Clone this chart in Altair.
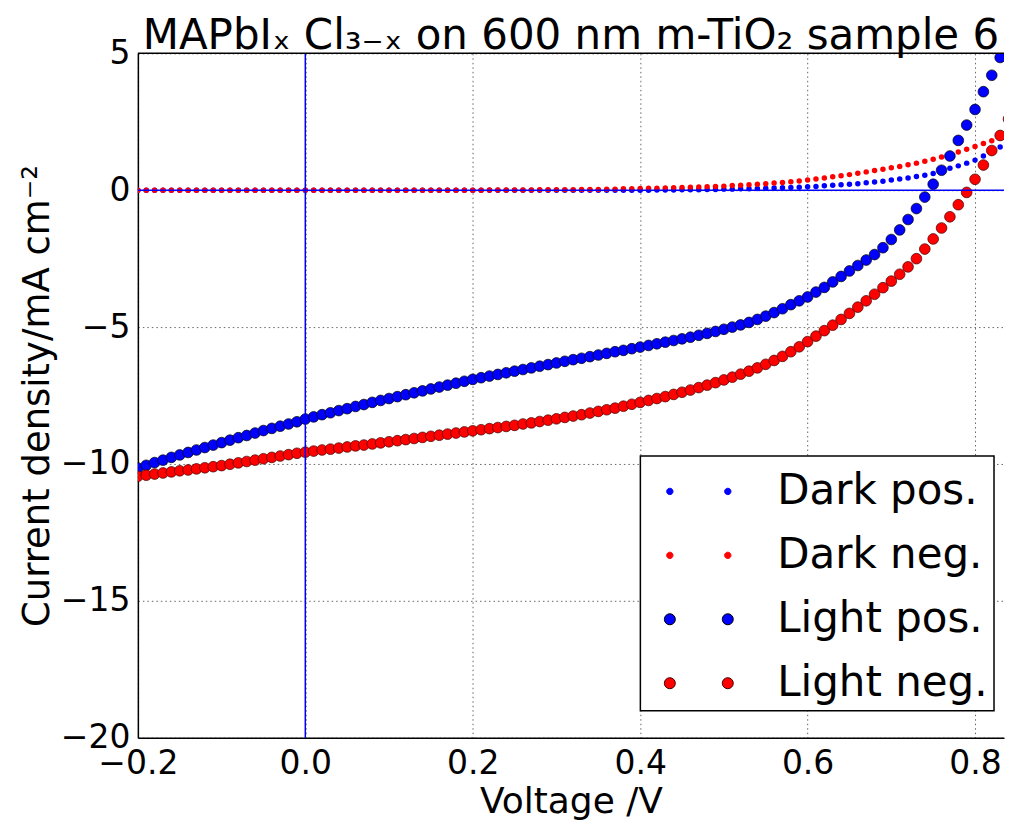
import altair as alt
import pandas as pd

# ---------------- data ----------------
voltage = [
    -0.20, -0.19, -0.18, -0.17, -0.16, -0.15, -0.14, -0.13, -0.12, -0.11,
    -0.10, -0.09, -0.08, -0.07, -0.06, -0.05, -0.04, -0.03, -0.02, -0.01,
    0.00, 0.01, 0.02, 0.03, 0.04, 0.05, 0.06, 0.07, 0.08, 0.09,
    0.10, 0.11, 0.12, 0.13, 0.14, 0.15, 0.16, 0.17, 0.18, 0.19,
    0.20, 0.21, 0.22, 0.23, 0.24, 0.25, 0.26, 0.27, 0.28, 0.29,
    0.30, 0.31, 0.32, 0.33, 0.34, 0.35, 0.36, 0.37, 0.38, 0.39,
    0.40, 0.41, 0.42, 0.43, 0.44, 0.45, 0.46, 0.47, 0.48, 0.49,
    0.50, 0.51, 0.52, 0.53, 0.54, 0.55, 0.56, 0.57, 0.58, 0.59,
    0.60, 0.61, 0.62, 0.63, 0.64, 0.65, 0.66, 0.67, 0.68, 0.69,
    0.70, 0.71, 0.72, 0.73, 0.74, 0.75, 0.76, 0.77, 0.78, 0.79,
    0.80, 0.81, 0.82, 0.83, 0.84,
]

dark_pos = [
    0.00, 0.00, 0.00, 0.00, 0.00, 0.00, 0.00, 0.00, 0.00, 0.00,
    0.00, 0.00, 0.00, 0.00, 0.00, 0.00, 0.00, 0.00, 0.00, 0.00,
    0.00, 0.00, 0.00, 0.00, 0.00, 0.00, 0.00, 0.00, 0.00, 0.00,
    0.00, 0.00, 0.00, 0.00, 0.00, 0.00, 0.00, 0.00, 0.00, 0.00,
    0.00, 0.00, 0.00, 0.00, 0.00, 0.00, 0.00, 0.00, 0.00, 0.00,
    0.00, 0.00, 0.00, 0.00, 0.00, 0.00, 0.00, 0.00, 0.00, 0.00,
    0.00, 0.00, 0.01, 0.01, 0.01, 0.02, 0.02, 0.02, 0.03, 0.03,
    0.04, 0.04, 0.05, 0.05, 0.06, 0.07, 0.08, 0.09, 0.10, 0.11,
    0.13, 0.14, 0.16, 0.18, 0.20, 0.22, 0.24, 0.27, 0.30, 0.33,
    0.37, 0.41, 0.45, 0.50, 0.55, 0.61, 0.70, 0.80, 0.89, 0.99,
    1.10, 1.25, 1.41, 1.58, 1.76,
]

dark_neg = [
    0.00, 0.00, 0.00, 0.00, 0.00, 0.00, 0.00, 0.00, 0.00, 0.00,
    0.00, 0.00, 0.00, 0.00, 0.00, 0.00, 0.00, 0.00, 0.00, 0.00,
    0.00, 0.00, 0.00, 0.00, 0.00, 0.00, 0.00, 0.00, 0.00, 0.00,
    0.00, 0.00, 0.00, 0.00, 0.00, 0.00, 0.00, 0.00, 0.00, 0.00,
    0.00, 0.00, 0.01, 0.01, 0.01, 0.01, 0.01, 0.01, 0.02, 0.02,
    0.02, 0.02, 0.02, 0.03, 0.03, 0.03, 0.04, 0.04, 0.05, 0.05,
    0.06, 0.07, 0.07, 0.08, 0.09, 0.10, 0.11, 0.12, 0.13, 0.14,
    0.15, 0.17, 0.18, 0.20, 0.22, 0.24, 0.26, 0.28, 0.31, 0.34,
    0.37, 0.41, 0.45, 0.49, 0.53, 0.57, 0.62, 0.67, 0.72, 0.77,
    0.82, 0.87, 0.93, 0.99, 1.06, 1.13, 1.21, 1.33, 1.40, 1.50,
    1.60, 1.71, 1.81, 1.91, 2.03,
]

light_pos = [
    -10.15, -10.05, -9.95, -9.86, -9.76, -9.67, -9.58, -9.49, -9.40, -9.31,
    -9.22, -9.13, -9.04, -8.96, -8.87, -8.78, -8.70, -8.62, -8.54, -8.46,
    -8.36, -8.28, -8.20, -8.13, -8.05, -7.98, -7.90, -7.83, -7.75, -7.68,
    -7.61, -7.54, -7.47, -7.40, -7.33, -7.26, -7.19, -7.12, -7.05, -6.98,
    -6.91, -6.85, -6.79, -6.73, -6.67, -6.61, -6.55, -6.49, -6.43, -6.37,
    -6.31, -6.25, -6.19, -6.14, -6.08, -6.02, -5.96, -5.90, -5.85, -5.79,
    -5.73, -5.67, -5.61, -5.55, -5.49, -5.43, -5.37, -5.30, -5.23, -5.16,
    -5.08, -5.00, -4.92, -4.83, -4.72, -4.60, -4.47, -4.33, -4.18, -4.04,
    -3.90, -3.72, -3.55, -3.35, -3.15, -2.95, -2.75, -2.55, -2.35, -2.10,
    -1.80, -1.45, -1.07, -0.67, -0.25, 0.22, 0.73, 1.25, 1.82, 2.38,
    2.95, 3.60, 4.20, 4.85, 5.50,
]

light_neg = [
    -10.45, -10.41, -10.37, -10.33, -10.29, -10.25, -10.22, -10.18, -10.14, -10.10,
    -10.06, -10.01, -9.96, -9.91, -9.86, -9.81, -9.76, -9.71, -9.66, -9.61,
    -9.57, -9.53, -9.49, -9.46, -9.42, -9.38, -9.34, -9.31, -9.27, -9.23,
    -9.19, -9.15, -9.11, -9.07, -9.03, -8.99, -8.95, -8.91, -8.87, -8.83,
    -8.79, -8.75, -8.71, -8.67, -8.63, -8.59, -8.54, -8.50, -8.45, -8.40,
    -8.35, -8.30, -8.25, -8.20, -8.14, -8.08, -8.02, -7.96, -7.89, -7.82,
    -7.75, -7.68, -7.61, -7.54, -7.46, -7.38, -7.30, -7.21, -7.12, -7.03,
    -6.93, -6.83, -6.72, -6.61, -6.49, -6.36, -6.22, -6.07, -5.90, -5.72,
    -5.53, -5.33, -5.13, -4.93, -4.72, -4.50, -4.27, -4.04, -3.80, -3.56,
    -3.32, -3.07, -2.80, -2.50, -2.15, -1.78, -1.38, -0.97, -0.53, -0.08,
    0.40, 0.92, 1.45, 2.00, 2.60,
]

series_names = ["Dark pos.", "Dark neg.", "Light pos.", "Light neg."]
series_fill = ["#0000ff", "#ff0000", "#0000ff", "#ff0000"]
series_edge = ["#0000ff", "#ff0000", "#000000", "#400000"]

x_ticks = [-0.2, 0.0, 0.2, 0.4, 0.6, 0.8]
y_ticks = [-20, -15, -10, -5, 0, 5]

title_text = "MAPbIₓ Cl₃₋ₓ on 600 nm m-TiO₂ sample 6"
x_title = "Voltage /V"
y_title = "Current density/mA cm⁻²"

FONT = "DejaVu Sans"

# ---------------- encodings ----------------
x_enc = alt.X(
    "V:Q",
    scale=alt.Scale(domain=[-0.2, 0.8346], nice=False, zero=False),
    axis=alt.Axis(values=x_ticks, format=".1f", title=x_title),
)
y_enc = alt.Y(
    "J:Q",
    scale=alt.Scale(domain=[-20, 5], nice=False, zero=False),
    axis=alt.Axis(values=y_ticks, format="d", title=y_title),
)


def series_layer(values, fill, edge, size, sw):
    df = pd.DataFrame({"V": voltage, "J": values})
    return alt.Chart(df).mark_circle(
        fill=fill, stroke=edge, strokeWidth=sw, size=size,
        opacity=1, fillOpacity=1, strokeOpacity=1, clip=True,
    ).encode(x=x_enc, y=y_enc)


layers = [
    series_layer(dark_pos, series_fill[0], series_edge[0], 30, 0),
    series_layer(dark_neg, series_fill[1], series_edge[1], 30, 0),
    series_layer(light_pos, series_fill[2], series_edge[2], 115, 0.7),
    series_layer(light_neg, series_fill[3], series_edge[3], 115, 0.7),
]


# legend shapes: two markers per entry (like matplotlib numpoints=2)
def two_circles(r):
    return (
        f"M{-1 + r},0A{r},{r} 0 1,1 {-1 - r},0A{r},{r} 0 1,1 {-1 + r},0Z"
        f"M{1 + r},0A{r},{r} 0 1,1 {1 - r},0A{r},{r} 0 1,1 {1 + r},0Z"
    )


legend_shapes = [two_circles(0.11), two_circles(0.11), two_circles(0.19), two_circles(0.19)]

legend_layer = alt.Chart(pd.DataFrame({"series": series_names})).mark_point(
    filled=True, opacity=1
).encode(
    color=alt.Color("series:N", scale=alt.Scale(domain=series_names, range=series_fill),
                    legend=alt.Legend(title=None)),
    shape=alt.Shape("series:N", scale=alt.Scale(domain=series_names, range=legend_shapes),
                    legend=alt.Legend(title=None)),
    stroke=alt.Stroke("series:N", scale=alt.Scale(domain=series_names, range=series_edge),
                      legend=alt.Legend(title=None)),
).transform_filter("false")

zero_h = alt.Chart(pd.DataFrame({"J": [0]})).mark_rule(color="#0000ff", strokeWidth=1.5).encode(y=y_enc)
zero_v = alt.Chart(pd.DataFrame({"V": [0]})).mark_rule(color="#0000ff", strokeWidth=1.5).encode(x=x_enc)
top_line = alt.Chart(pd.DataFrame({"J": [5]})).mark_rule(color="black", strokeWidth=1.5).encode(y=y_enc)

chart = alt.layer(*layers, zero_h, zero_v, top_line, legend_layer).properties(
    width=867,
    height=685,
    padding={"left": 10, "top": 7, "right": 0, "bottom": 0},
    title=alt.TitleParams(text=title_text, fontSize=42, font=FONT, fontWeight="normal",
                          color="black", offset=-21, anchor="middle"),
).configure_view(
    stroke=None
).configure_axis(
    domainColor="black", domainWidth=1.5,
    grid=True, gridColor="#666666", gridDash=[1.5, 3], gridWidth=1, gridOpacity=1,
    ticks=False,
    labelFont=FONT, labelFontSize=33, labelColor="black",
    labelFlush=False, labelOverlap=False,
    titleFont=FONT, titleFontWeight="normal", titleColor="black",
).configure_axisY(
    labelPadding=8, titlePadding=4, titleFontSize=37,
).configure_axisX(
    labelPadding=10, titlePadding=4, titleFontSize=36,
).configure_legend(
    orient="none", legendX=503, legendY=403,
    strokeColor="black", strokeWidth=1.5, fillColor="white", cornerRadius=0,
    padding=6, symbolOffset=23, labelOffset=49, rowPadding=13,
    symbolSize=3364, symbolStrokeWidth=1,
    labelFont=FONT, labelFontSize=42, labelColor="black", labelLimit=400,
)

chart.save("out.html", embed_options={"renderer": "svg", "actions": False})
